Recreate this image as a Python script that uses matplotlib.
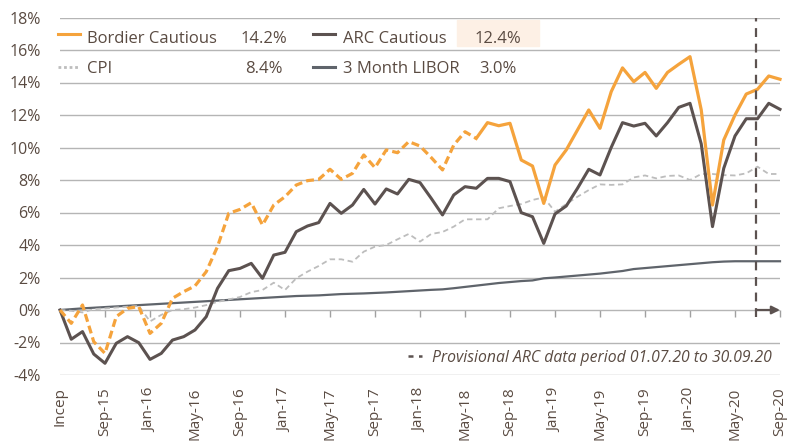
import numpy as np
import matplotlib.pyplot as plt
from matplotlib.patches import Rectangle

plt.rcParams['font.family'] = ['Open Sans', 'DejaVu Sans']

# month index 0 = inception (May-15), one point per month to Sep-20
tick_labels = ['Incep', 'Sep-15', 'Jan-16', 'May-16', 'Sep-16', 'Jan-17', 'May-17',
               'Sep-17', 'Jan-18', 'May-18', 'Sep-18', 'Jan-19', 'May-19', 'Sep-19',
               'Jan-20', 'May-20', 'Sep-20']

bordier = [0, -0.82, 0.31, -1.95, -2.67, -0.41, 0.10, 0.21, -1.44, -0.82, 0.72, 1.13,
           1.48, 2.36, 3.90, 5.95, 6.19, 6.60, 5.23, 6.46, 6.97, 7.69, 7.96, 8.04,
           8.66, 8.04, 8.41, 9.54, 8.76, 9.85, 9.68, 10.36, 10.09, 9.38, 8.62, 10.15,
           10.97, 10.56, 11.53, 11.34, 11.49, 9.23, 8.86, 6.56, 8.92, 9.85, 11.08,
           12.31, 11.18, 13.44, 14.90, 14.05, 14.62, 13.64, 14.62, 15.12, 15.59,
           12.31, 6.46, 10.46, 12.00, 13.29, 13.58, 14.40, 14.20]

arc = [0, -1.80, -1.33, -2.71, -3.28, -2.05, -1.64, -2.01, -3.04, -2.67, -1.85, -1.64,
       -1.23, -0.41, 1.33, 2.42, 2.56, 2.87, 1.95, 3.38, 3.55, 4.82, 5.17, 5.38,
       6.56, 5.95, 6.46, 7.42, 6.52, 7.45, 7.14, 8.04, 7.84, 6.87, 5.85, 7.08,
       7.59, 7.49, 8.10, 8.10, 7.90, 5.99, 5.74, 4.10, 5.91, 6.40, 7.49, 8.66,
       8.31, 10.01, 11.53, 11.32, 11.49, 10.71, 11.53, 12.47, 12.72, 10.22, 5.13,
       8.72, 10.71, 11.77, 11.77, 12.72, 12.35]

cpi = [0, -0.05, -0.15, 0.05, 0.10, 0.15, 0.20, 0.25, -0.70, -0.30, 0.0, 0.05,
       0.15, 0.30, 0.50, 0.65, 0.80, 1.10, 1.23, 1.68, 1.23, 1.95, 2.36, 2.71,
       3.12, 3.12, 2.97, 3.59, 3.90, 4.00, 4.35, 4.68, 4.21, 4.68, 4.80, 5.13,
       5.58, 5.58, 5.58, 6.26, 6.40, 6.52, 6.77, 6.93, 6.05, 6.52, 6.97, 7.38,
       7.73, 7.70, 7.73, 8.16, 8.28, 8.10, 8.25, 8.28, 8.00, 8.37, 8.37, 8.30,
       8.28, 8.41, 8.82, 8.37, 8.37]

libor = [0, 0.05, 0.10, 0.14, 0.18, 0.22, 0.26, 0.30, 0.34, 0.38, 0.42, 0.46,
         0.50, 0.54, 0.58, 0.62, 0.66, 0.70, 0.74, 0.78, 0.82, 0.86, 0.88, 0.90,
         0.94, 0.98, 1.00, 1.02, 1.05, 1.08, 1.12, 1.16, 1.20, 1.24, 1.27, 1.34,
         1.42, 1.50, 1.58, 1.66, 1.72, 1.78, 1.82, 1.95, 2.00, 2.06, 2.12, 2.18,
         2.24, 2.32, 2.40, 2.52, 2.58, 2.64, 2.70, 2.76, 2.82, 2.88, 2.94, 2.98,
         3.00, 3.00, 3.00, 3.00, 3.00]

legend_names = ['Bordier Cautious', 'ARC Cautious', 'CPI', '3 Month LIBOR']
legend_values = ['14.2%', '12.4%', '8.4%', '3.0%']

simulated_until = 37      # Bordier drawn dashed up to this month
provisional_from = 61.87  # start of provisional ARC period

TXT = '#5a4b42'
ORANGE = '#f5a33c'
DARK = '#5c5250'
SLATE = '#5f646b'
LIGHT = '#bdbdbd'

fig = plt.figure(figsize=(7.97, 4.43), dpi=100)
ax = fig.add_axes([60 / 797, 68 / 443, 720 / 797, 357.5 / 443])

x = np.arange(len(bordier))
ax.plot(x, libor, color=SLATE, lw=1.6, clip_on=False, zorder=3)
ax.plot(x, cpi, color=LIGHT, lw=1.3, dashes=(3, 2), clip_on=False, zorder=3)
ax.plot(x, arc, color=DARK, lw=2.2, clip_on=False, zorder=4)
ax.plot(x[:simulated_until + 1], bordier[:simulated_until + 1], color=ORANGE, lw=2.3,
        dashes=(2.5, 1.3), clip_on=False, zorder=5)
ax.plot(x[simulated_until:], bordier[simulated_until:], color=ORANGE, lw=2.3,
        clip_on=False, zorder=5)

ax.set_xlim(0, len(bordier) - 1)
ax.set_ylim(-4, 18)

# axes, grid
ax.set_yticks(range(-4, 19, 2))
ax.set_yticklabels([f'{v}%' for v in range(-4, 19, 2)])
ax.yaxis.grid(True, color='#b5b5b5', lw=1.0)
ax.set_axisbelow(True)
ax.set_xticks(range(0, len(bordier), 4))
ax.set_xticklabels(tick_labels, rotation=90)
ax.tick_params(axis='y', length=0, pad=14, labelsize=11.5, labelcolor=TXT)
ax.tick_params(axis='x', length=0, pad=9, labelsize=11, labelcolor=TXT)
for s in ax.spines.values():
    s.set_visible(False)

# tick marks sitting on the 0% line
sec = ax.secondary_xaxis(4 / 22)
sec.set_xticks(range(4, len(bordier), 4))
sec.tick_params(length=5, width=1, color='#a0a0a0', labelbottom=False, labeltop=False)
for s in sec.spines.values():
    s.set_visible(False)

# provisional period marker
ax.vlines(provisional_from, -0.4, 18, color=DARK, lw=1.6, linestyles=(0, (4, 3)), zorder=6)
ax.annotate('', xy=(len(bordier) - 1, 0), xytext=(provisional_from, 0),
            arrowprops=dict(arrowstyle='-|>', color=DARK, lw=1.6, mutation_scale=12,
                            shrinkA=0, shrinkB=0),
            annotation_clip=False, zorder=6)

# legend table
ax.add_patch(Rectangle((0.5514, 0.9203), 0.1139, 0.0727, transform=ax.transAxes,
                       color='#fdf0e5', zorder=1))
kw = dict(transform=ax.transAxes, fontsize=12, color=TXT, va='baseline')
ax.plot([-0.003, 0.028], [0.953, 0.953], transform=ax.transAxes, color=ORANGE, lw=2.2, clip_on=False)
ax.plot([0.3514, 0.3819], [0.953, 0.953], transform=ax.transAxes, color=DARK, lw=2.2, clip_on=False)
ax.plot([-0.003, 0.028], [0.862, 0.862], transform=ax.transAxes, color=LIGHT, lw=2,
        dashes=(1, 1), clip_on=False)
ax.plot([0.3514, 0.3819], [0.862, 0.862], transform=ax.transAxes, color=SLATE, lw=2.2, clip_on=False)
ax.text(0.0375, 0.9287, legend_names[0], **kw)
ax.text(0.2826, 0.9287, legend_values[0], ha='center', **kw)
ax.text(0.393, 0.9287, legend_names[1], **kw)
ax.text(0.6083, 0.9287, legend_values[1], ha='center', **kw)
ax.text(0.0375, 0.8456, legend_names[2], **kw)
ax.text(0.2826, 0.8456, legend_values[2], ha='center', **kw)
ax.text(0.393, 0.8456, legend_names[3], **kw)
ax.text(0.6083, 0.8456, legend_values[3], ha='center', **kw)

# footnote
ax.plot([0.4833, 0.503], [0.054, 0.054], transform=ax.transAxes, color=DARK, lw=1.8,
        dashes=(2, 2.2))
ax.text(0.989, 0.0364, 'Provisional ARC data period 01.07.20 to 30.09.20',
        transform=ax.transAxes, fontsize=11.3, color=TXT, style='italic',
        ha='right', va='baseline')

fig.savefig('out.png', dpi=100)
